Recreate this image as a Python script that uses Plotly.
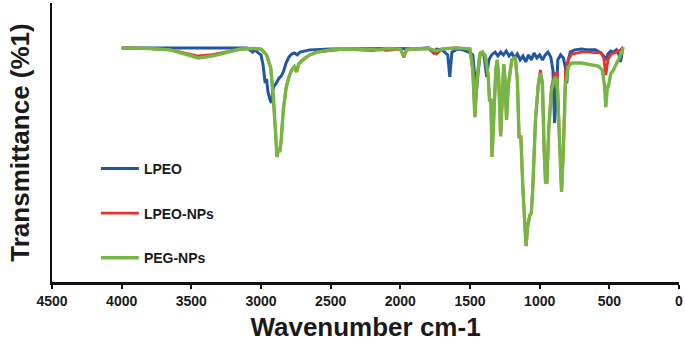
import plotly.graph_objects as go

# ---- data ----
wn_lpeo = [4000, 3700, 3400, 3100, 3060, 3040, 3020, 3000, 2985, 2970, 2960, 2950, 2935, 2925,
           2915, 2905, 2890, 2870, 2855, 2840, 2820, 2800, 2780, 2760, 2740, 2720, 2650, 2500,
           2000, 1900, 1800, 1760, 1740, 1700, 1660, 1645, 1630, 1590, 1550, 1510, 1480, 1465,
           1455, 1440, 1425, 1400, 1380, 1365, 1345, 1320, 1300, 1280, 1260, 1240, 1220, 1200,
           1180, 1160, 1140, 1120, 1100, 1080, 1060, 1040, 1020, 1000, 980, 960, 940, 920, 905,
           893, 880, 870, 850, 830, 812, 805, 795, 780, 750, 700, 650, 600, 560, 540, 525, 510,
           490, 470, 450, 430, 420, 412, 405]
t_lpeo = [83.9, 83.9, 83.7, 83.9, 82.4, 83.2, 82.1, 81.4, 77.8, 71.3, 72.8, 68.1, 65.2, 64.2,
          68.8, 70.3, 71.3, 73.1, 73.8, 75.3, 78.5, 80.6, 81.7, 82.1, 81.4, 82.4, 83.2, 83.5,
          83.7, 83.5, 83.9, 82.1, 83.5, 83.2, 81.4, 73.5, 82.4, 83.5, 83.2, 82.4, 81.4, 74.2,
          67.7, 76.0, 82.4, 81.4, 73.5, 79.6, 81.4, 82.4, 81.0, 82.4, 81.4, 82.8, 81.0, 82.1,
          80.3, 81.7, 79.6, 81.0, 78.9, 81.4, 79.6, 82.1, 80.3, 81.4, 79.6, 81.4, 82.4, 80.6, 76.0,
          57.0, 66.7, 79.6, 81.4, 80.3, 76.0, 71.3, 79.6, 82.4, 83.2, 83.5, 83.2, 83.2, 82.1, 81.0,
          79.6, 81.7, 82.8, 82.4, 83.2, 81.4, 78.9, 81.0, 83.9]

wn_nps = [4000, 3800, 3650, 3550, 3450, 3350, 3250, 3150, 3050, 3000, 2960, 2930, 2910, 2895,
          2885, 2875, 2865, 2855, 2840, 2820, 2800, 2780, 2760, 2745, 2730, 2700, 2650, 2600,
          2500, 2400, 2200, 2150, 2100, 2000, 1975, 1955, 1900, 1800, 1740, 1700, 1600, 1500,
          1480, 1465, 1450, 1430, 1410, 1390, 1370, 1360, 1350, 1342, 1330, 1315, 1305, 1295,
          1280, 1268, 1258, 1248, 1238, 1225, 1200, 1175, 1160, 1148, 1135, 1120, 1105, 1098,
          1085, 1070, 1060, 1050, 1030, 1010, 995, 980, 968, 958, 948, 935, 915, 890, 875, 860,
          843, 830, 815, 795, 770, 700, 650, 580, 560, 540, 525, 510, 490, 450, 420, 400]
t_nps = [83.9, 83.7, 83.2, 82.2, 81.0, 81.5, 82.6, 83.5, 83.7, 83.5, 81.4, 76.7, 65.2, 50.9,
         44.8, 48.0, 46.6, 50.9, 61.6, 69.5, 73.5, 76.0, 77.1, 75.3, 78.1, 79.6, 81.4, 82.4,
         83.0, 83.5, 82.9, 83.4, 83.0, 83.5, 80.6, 83.2, 83.5, 83.7, 81.7, 83.5, 83.9, 83.5,
         76.0, 59.1, 72.4, 81.4, 82.4, 81.0, 74.2, 65.2, 65.2, 44.8, 58.1, 76.0, 79.6, 74.2,
         52.3, 68.8, 78.1, 72.4, 58.1, 70.6, 79.6, 80.6, 72.4, 52.0, 52.0, 33.0, 15.1, 12.9,
         20.4, 24.0, 24.7, 33.0, 58.1, 70.6, 76.0, 71.5, 47.3, 35.8, 35.8, 54.5, 70.0, 74.9,
         74.9, 56.0, 32.3, 47.3, 75.3, 79.6, 81.7, 82.4, 82.4, 82.1, 82.1, 80.3, 74.2, 79.6,
         81.7, 82.4, 83.2, 84.2]

wn_peg = [4000, 3800, 3650, 3550, 3450, 3350, 3250, 3150, 3050, 3000, 2960, 2930, 2910, 2895,
          2885, 2875, 2865, 2855, 2840, 2820, 2800, 2780, 2760, 2745, 2730, 2700, 2650, 2600,
          2500, 2400, 2200, 2150, 2100, 2000, 1975, 1955, 1900, 1800, 1740, 1700, 1600, 1500,
          1480, 1465, 1450, 1430, 1410, 1390, 1370, 1360, 1350, 1342, 1330, 1315, 1305, 1295,
          1280, 1268, 1258, 1248, 1238, 1225, 1200, 1175, 1160, 1148, 1135, 1120, 1105, 1098,
          1085, 1070, 1060, 1050, 1030, 1010, 995, 980, 968, 958, 948, 935, 915, 890, 875, 860,
          843, 830, 815, 795, 770, 700, 650, 580, 550, 535, 525, 515, 505, 490, 470, 450, 430,
          410, 400]
t_peg = [83.9, 83.7, 83.2, 81.7, 80.3, 81.0, 82.4, 83.5, 83.7, 83.5, 81.4, 76.7, 65.2, 50.9,
         44.8, 48.0, 46.6, 50.9, 61.6, 69.5, 73.5, 76.0, 77.1, 75.3, 78.1, 79.6, 81.4, 82.4,
         83.2, 83.5, 83.5, 83.2, 83.7, 83.5, 81.0, 83.2, 83.5, 83.7, 82.8, 83.5, 83.9, 83.5,
         76.0, 59.1, 72.4, 81.4, 82.4, 81.0, 74.2, 65.2, 65.2, 44.8, 58.1, 76.0, 79.6, 74.2,
         52.3, 68.8, 78.1, 72.4, 58.1, 70.6, 79.6, 80.6, 72.4, 52.0, 52.0, 33.0, 15.1, 12.9,
         20.4, 24.0, 24.7, 33.0, 58.1, 70.6, 74.9, 70.6, 47.3, 35.8, 35.8, 54.5, 68.8, 73.5,
         72.4, 54.5, 32.3, 47.3, 70.6, 77.1, 78.5, 78.5, 78.1, 77.4, 76.0, 70.6, 62.7, 69.2,
         70.6, 74.6, 76.0, 78.1, 80.3, 82.4, 84.2]

series_names = ["LPEO", "LPEO-NPs", "PEG-NPs"]
series_colors = ["#2157A2", "#E4332D", "#77B644"]
x_ticks = [4500, 4000, 3500, 3000, 2500, 2000, 1500, 1000, 500, 0]

FONT = "Arial, Liberation Sans, sans-serif"

fig = go.Figure()
for name, xs, ys, col, w in zip(series_names,
                                [wn_lpeo, wn_nps, wn_peg],
                                [t_lpeo, t_nps, t_peg],
                                series_colors, [3, 2.8, 3.4]):
    fig.add_trace(go.Scatter(x=xs, y=ys, mode="lines", name=name, legendgroup=name,
                             line=dict(color=col, width=w)))

fig.update_layout(
    width=685, height=343,
    margin=dict(l=52, r=6, t=3, b=61, autoexpand=False),
    paper_bgcolor="white", plot_bgcolor="white",
    font=dict(family=FONT, color="#1a1a1a"),
    showlegend=True,
    legend=dict(x=0.07, y=0.463, xanchor="left", yanchor="top",
                bgcolor="rgba(0,0,0,0)", tracegroupgap=23.5, itemwidth=38,
                font=dict(family=FONT, size=14, color="#1a1a1a", weight="bold")),
    xaxis=dict(range=[4500, 0], tickvals=x_ticks,
               ticktext=[f"<b>{v}</b>" for v in x_ticks],
               ticks="outside", ticklen=4, tickwidth=2, tickcolor="#111",
               showline=True, linecolor="#111", linewidth=2.5,
               showgrid=False, zeroline=False, automargin=False,
               tickfont=dict(size=14, family=FONT, color="#1a1a1a"),
               title=dict(text="<b>Wavenumber cm-1</b>", standoff=11,
                          font=dict(size=26, family=FONT, color="#1a1a1a"))),
    yaxis=dict(range=[0, 100], showticklabels=False, ticks="",
               showline=True, linecolor="#111", linewidth=2,
               showgrid=False, zeroline=False, automargin=False,
               title=dict(text="<b>Transmittance (%1)</b>", standoff=13,
                          font=dict(size=26, family=FONT, color="#1a1a1a"))),
)

fig.write_html("out.html", config={"displayModeBar": False},
               post_script="document.body.style.margin='0';document.body.style.overflow='hidden';")
